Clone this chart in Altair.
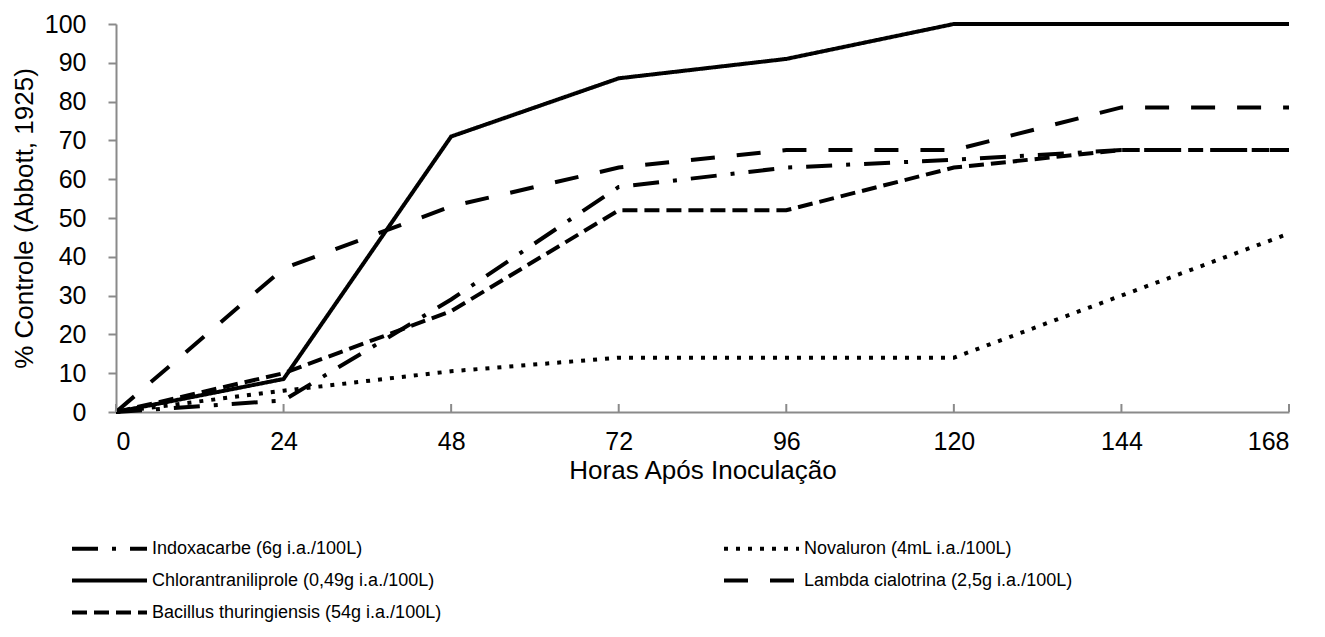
import altair as alt
import pandas as pd

hours = [0, 24, 48, 72, 96, 120, 144, 168]
x_ticks = [0, 24, 48, 72, 96, 120, 144, 168]
y_ticks = [0, 10, 20, 30, 40, 50, 60, 70, 80, 90, 100]

# legend order (column by column): left column then right column
series_names = [
    "Indoxacarbe (6g i.a./100L)",
    "Chlorantraniliprole  (0,49g i.a./100L)",
    "Bacillus thuringiensis (54g i.a./100L)",
    "Novaluron (4mL  i.a./100L)",
    "Lambda cialotrina (2,5g i.a./100L)",
]
indoxacarbe = [0, 3, 29, 58, 63, 65, 67.5, 67.5]
chlorantraniliprole = [0, 8.5, 71, 86, 91, 100, 100, 100]
bacillus = [0, 10, 26, 52, 52, 63, 67.5, 67.5]
novaluron = [0, 5.5, 10.5, 14, 14, 14, 30, 46]
lambda_cialotrina = [0, 37, 53, 63, 67.5, 67.5, 78.5, 78.5]

dash_styles = [[26, 14, 4, 14], [1, 0], [15, 7], [4, 8], [24, 22]]

series_values = [indoxacarbe, chlorantraniliprole, bacillus, novaluron, lambda_cialotrina]
rows = []
for name, vals in zip(series_names, series_values):
    for h, v in zip(hours, vals):
        rows.append({"Horas": h, "Controle": v, "Serie": name})
df = pd.DataFrame(rows)
ticks_df = pd.DataFrame({"Horas": x_ticks})

W, H = 1173, 388
AXIS_GRAY = "#8a8a8a"
FONT = "Liberation Sans"

x_scale = alt.Scale(domain=[0, 168], nice=False, zero=False)
y_scale = alt.Scale(domain=[0, 100], nice=False)

lines = alt.Chart(df).mark_line(strokeWidth=4, color="black", strokeCap="butt").encode(
    x=alt.X("Horas:Q", scale=x_scale,
            axis=alt.Axis(values=x_ticks, title="Horas Após Inoculação", ticks=False,
                          labelPadding=17, titlePadding=3, grid=False)),
    y=alt.Y("Controle:Q", scale=y_scale,
            axis=alt.Axis(values=y_ticks, title="% Controle (Abbott, 1925)", tickSize=8,
                          labelPadding=22, titlePadding=7, grid=False)),
    strokeDash=alt.StrokeDash(
        "Serie:N",
        scale=alt.Scale(domain=series_names, range=dash_styles),
        sort=series_names,
        legend=alt.Legend(
            title=None, orient="none", legendX=-21, legendY=510, columns=2,
            columnPadding=274, rowPadding=8, symbolType="M-3,0L3,0", symbolSize=625,
            symbolStrokeWidth=4, symbolStrokeColor="black", labelOffset=28,
            labelFont=FONT, labelFontSize=18,
            labelColor="black", padding=0, labelLimit=600,
        ),
    ),
)

inner_ticks = alt.Chart(ticks_df).mark_rule(color=AXIS_GRAY, strokeWidth=2).encode(
    x=alt.X("Horas:Q", scale=x_scale),
    y=alt.value(H - 8),
    y2=alt.value(H),
)

chart = alt.layer(lines, inner_ticks).properties(
    width=W, height=H,
    autosize=alt.AutoSizeParams(type="none"),
    padding={"left": 108, "top": 16, "right": 28, "bottom": 212},
).configure_view(stroke=None).configure_axis(
    domainColor=AXIS_GRAY, domainWidth=2, tickColor=AXIS_GRAY, tickWidth=2,
    labelFont=FONT, labelFontSize=25, labelColor="black",
    titleFont=FONT, titleFontSize=26, titleFontWeight="normal", titleColor="black",
)

chart.save("out.html", embed_options={"renderer": "svg", "actions": False})
